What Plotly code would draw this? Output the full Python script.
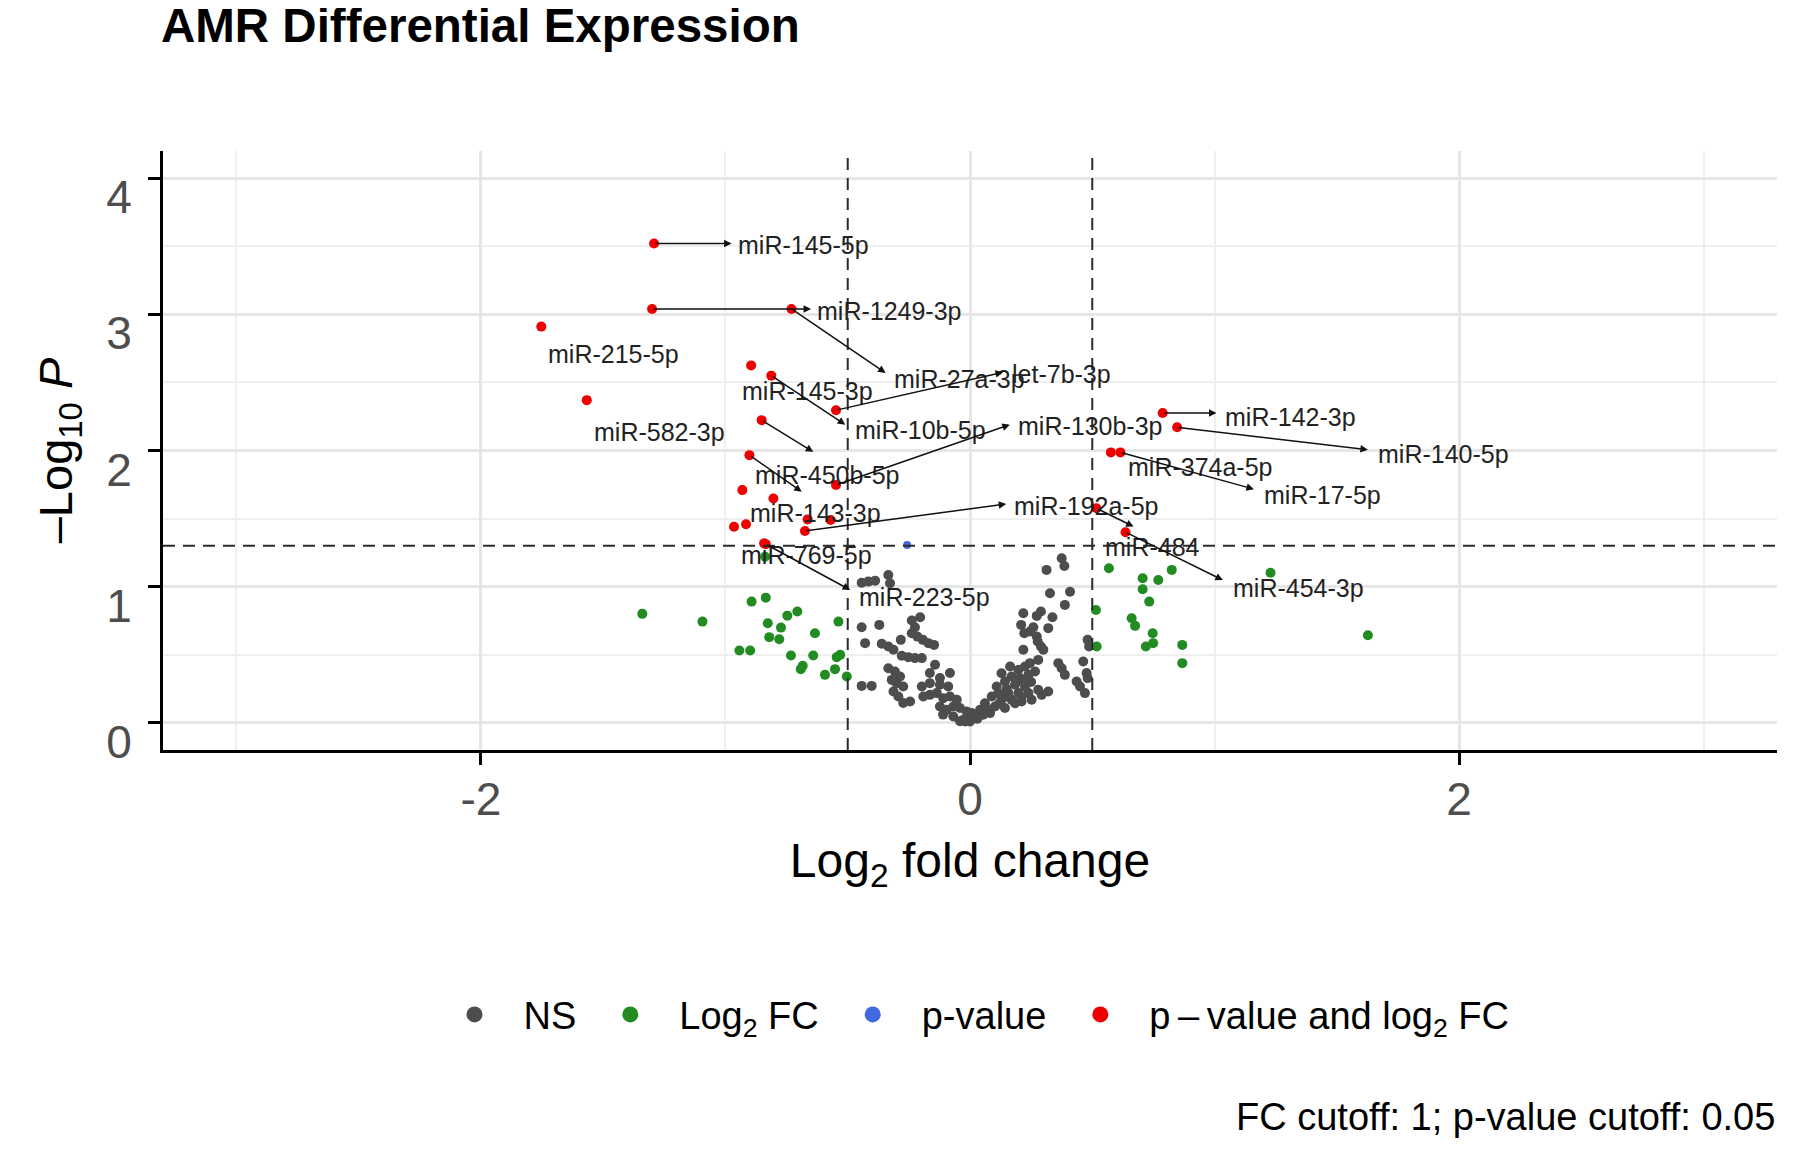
import math
import plotly.graph_objects as go

# ---------------- data (log2 fold change, -log10 p) ----------------
ns_x = [-0.443, -0.416, -0.388, -0.334, -0.327, -0.443, -0.371, -0.429,
        -0.238, -0.204, -0.225, -0.238, -0.215, -0.193, -0.170, -0.147,
        -0.361, -0.334, -0.313, -0.283, -0.279, -0.252, -0.225, -0.197,
        -0.143, -0.164, -0.334, -0.307, -0.286, -0.320, -0.300, -0.273,
        -0.313, -0.293, -0.273, -0.245, -0.443, -0.402, -0.197, -0.164,
        -0.123, -0.082, -0.123, -0.089, -0.136, -0.164, -0.191, -0.109,
        -0.082, -0.054, -0.123, -0.095, -0.068, -0.041, -0.014, -0.110,
        -0.068, -0.027, 0.000, -0.041, 0.000,
        0.375, 0.386, 0.313, 0.327, 0.409, 0.388, 0.218, 0.273, 0.290, 0.337,
        0.209, 0.259, 0.320, 0.222, 0.245, 0.273, 0.277, 0.290, 0.300, 0.218,
        0.481, 0.487, 0.279, 0.245, 0.225, 0.361, 0.375, 0.388, 0.463, 0.477,
        0.481, 0.436, 0.450, 0.470,
        0.164, 0.198, 0.129, 0.170, 0.204, 0.239, 0.266, 0.143, 0.184, 0.225,
        0.109, 0.116, 0.157, 0.198, 0.239, 0.279, 0.320, 0.089, 0.129, 0.170,
        0.211, 0.252, 0.293, 0.061, 0.102, 0.143, 0.184, 0.041, 0.082, 0.020,
        0.054, -0.007, 0.007, -0.020, 0.030, 0.070, 0.120, 0.150, 0.190, 0.220,
        0.250, 0.140, 0.210]
ns_y = [1.029, 1.037, 1.044, 1.086, 1.025, 0.702, 0.719, 0.585,
        0.751, 0.775, 0.702, 0.658, 0.633, 0.609, 0.585, 0.572,
        0.580, 0.560, 0.536, 0.609, 0.492, 0.482, 0.475, 0.475,
        0.426, 0.365, 0.401, 0.376, 0.340, 0.315, 0.291, 0.266,
        0.230, 0.193, 0.145, 0.156, 0.271, 0.271, 0.266, 0.291,
        0.328, 0.365, 0.279, 0.266, 0.218, 0.205, 0.193, 0.181,
        0.193, 0.169, 0.120, 0.095, 0.120, 0.108, 0.083, 0.060,
        0.046, 0.022, 0.022, 0.012, 0.010,
        1.208, 1.152, 1.123, 0.951, 0.963, 0.866, 0.805, 0.785, 0.817, 0.775,
        0.719, 0.702, 0.695, 0.658, 0.670, 0.633, 0.597, 0.560, 0.536, 0.536,
        0.609, 0.560, 0.462, 0.438, 0.413, 0.438, 0.401, 0.352, 0.450, 0.365,
        0.328, 0.303, 0.266, 0.218,
        0.413, 0.389, 0.364, 0.340, 0.328, 0.352, 0.377, 0.303, 0.279, 0.267,
        0.267, 0.218, 0.218, 0.218, 0.218, 0.242, 0.230, 0.193, 0.169, 0.169,
        0.156, 0.169, 0.205, 0.144, 0.120, 0.108, 0.144, 0.095, 0.071, 0.046,
        0.059, 0.022, 0.071, 0.010, 0.030, 0.100, 0.140, 0.250, 0.300, 0.310,
        0.300, 0.190, 0.190]

fc_x = [-1.340, -1.094, -0.893, -0.835, -0.747, -0.706, -0.827, -0.773, -0.634,
        -0.821, -0.780, -0.943, -0.899, -0.732, -0.641, -0.538, -0.545, -0.531,
        -0.684, -0.692, -0.593, -0.552, -0.504, -0.838,
        0.568, 0.825, 0.706, 0.770, 0.706, 0.733, 0.515, 0.661, 0.675, 0.747,
        0.719, 0.749, 0.868, 0.868, 0.518, 1.229, 1.627]
fc_y = [0.800, 0.743, 0.890, 0.919, 0.787, 0.817, 0.731, 0.699, 0.658,
        0.629, 0.614, 0.531, 0.531, 0.494, 0.494, 0.743, 0.482, 0.499,
        0.418, 0.394, 0.352, 0.394, 0.340, 1.220,
        1.135, 1.123, 1.061, 1.049, 0.981, 0.890, 0.829, 0.768, 0.712, 0.658,
        0.560, 0.585, 0.572, 0.438, 0.560, 1.102, 0.643]

p_x = [-0.257]
p_y = [1.306]

sig_names = ["miR-145-5p", "miR-1249-3p", "miR-27a-3p", "miR-215-5p", "miR-582-3p",
             "miR-145-3p", "miR-10b-5p", "let-7b-3p", "miR-450b-5p", "miR-143-3p",
             "miR-130b-3p", "", "", "", "", "", "", "miR-192a-5p", "miR-769-5p",
             "miR-223-5p", "miR-142-3p", "miR-140-5p", "miR-374a-5p", "miR-17-5p",
             "miR-484", "miR-454-3p"]
sig_x = [-1.292, -1.300, -0.730, -1.753, -1.567, -0.895, -0.8125, -0.548, -0.852,
         -0.902, -0.548, -0.931, -0.804, -0.965, -0.916, -0.664, -0.570, -0.675,
         -0.842, -0.835, 0.788, 0.847, 0.576, 0.615, 0.517, 0.636]
sig_y = [3.520, 3.040, 3.040, 2.910, 2.370, 2.625, 2.550, 2.296, 2.223,
         1.966, 1.746, 1.709, 1.648, 1.440, 1.458, 1.494, 1.489, 1.409,
         1.318, 1.312, 2.276, 2.171, 1.986, 1.986, 1.576, 1.400]

fc_cutoff_line = 0.5
p_cutoff = 0.05

# label placement (text left/middle anchor, arrow head) in data units
label_text_pos = {
    "miR-145-5p": (-0.955, 3.51), "miR-1249-3p": (-0.635, 3.025),
    "miR-27a-3p": (-0.32, 2.525), "let-7b-3p": (0.165, 2.56),
    "miR-215-5p": (-1.735, 2.71), "miR-582-3p": (-1.545, 2.135),
    "miR-145-3p": (-0.94, 2.44), "miR-10b-5p": (-0.48, 2.15),
    "miR-450b-5p": (-0.886, 1.82), "miR-130b-3p": (0.19, 2.18),
    "miR-143-3p": (-0.906, 1.54), "miR-192a-5p": (0.172, 1.59),
    "miR-769-5p": (-0.943, 1.233), "miR-223-5p": (-0.461, 0.925),
    "miR-142-3p": (1.034, 2.245), "miR-140-5p": (1.661, 1.975),
    "miR-374a-5p": (0.636, 1.88), "miR-17-5p": (1.195, 1.675),
    "miR-484": (0.542, 1.294), "miR-454-3p": (1.068, 0.99),
}
label_arrow_head = {
    "miR-145-5p": (-0.975, 3.52), "miR-1249-3p": (-0.65, 3.04),
    "miR-27a-3p": (-0.345, 2.57), "let-7b-3p": (0.135, 2.575),
    "miR-10b-5p": (-0.51, 2.19), "miR-450b-5p": (-0.641, 1.99),
    "miR-130b-3p": (0.163, 2.19), "miR-143-3p": (-0.688, 1.697),
    "miR-192a-5p": (0.148, 1.607), "miR-223-5p": (-0.49, 0.976),
    "miR-142-3p": (1.008, 2.276), "miR-140-5p": (1.627, 2.006),
    "miR-17-5p": (1.161, 1.716), "miR-484": (0.669, 1.441),
    "miR-454-3p": (1.034, 1.048),
}

# ---------------- figure ----------------
FONT = "Liberation Sans, Arial, sans-serif"
C_NS, C_FC, C_P, C_SIG = "#4d4d4d", "#228B22", "#4169E1", "#EE0000"

fig = go.Figure()
for xs, ys, col, sz in [(ns_x, ns_y, C_NS, 10), (fc_x, fc_y, C_FC, 10),
                        (p_x, p_y, C_P, 8), (sig_x, sig_y, C_SIG, 10)]:
    fig.add_trace(go.Scatter(x=xs, y=ys, mode="markers", showlegend=False,
                             marker=dict(color=col, size=sz, line=dict(width=0)),
                             hoverinfo="skip"))

# legend-only traces
for name, col in [("NS", C_NS), ("Log<sub>2</sub> FC", C_FC), ("p-value", C_P),
                  ("p\u2009\u2013\u2009value and log<sub>2</sub> FC", C_SIG)]:
    fig.add_trace(go.Scatter(x=[None], y=[None], mode="markers", name=name,
                             marker=dict(color=col, size=20)))

# threshold lines
DASH = "12px,8px"
for xv in (-fc_cutoff_line, fc_cutoff_line):
    fig.add_shape(type="line", xref="x", yref="paper", x0=xv, x1=xv, y0=0, y1=1,
                  line=dict(color="#2b2b2b", width=2, dash=DASH))
fig.add_shape(type="line", xref="paper", yref="y", x0=0, x1=1,
              y0=-math.log10(p_cutoff), y1=-math.log10(p_cutoff),
              line=dict(color="#2b2b2b", width=2, dash=DASH))

# labels + connectors
for i, nm in enumerate(sig_names):
    if not nm:
        continue
    tx, ty = label_text_pos[nm]
    fig.add_annotation(x=tx, y=ty, xref="x", yref="y", text=nm, showarrow=False,
                       xanchor="left", yanchor="middle",
                       font=dict(family=FONT, size=25, color="#222222"))
    if nm in label_arrow_head:
        hx, hy = label_arrow_head[nm]
        fig.add_annotation(x=hx, y=hy, ax=sig_x[i], ay=sig_y[i], xref="x", yref="y",
                           axref="x", ayref="y", text="", showarrow=True,
                           arrowhead=2, arrowsize=1, arrowwidth=1.5,
                           arrowcolor="#111111", standoff=0, startstandoff=0)

# caption
fig.add_annotation(xref="paper", yref="paper", x=1.0, y=-0.613, xanchor="right",
                   yanchor="middle", showarrow=False,
                   text="FC cutoff: 1; p-value cutoff: 0.05",
                   font=dict(family=FONT, size=38, color="black"))

axis_common = dict(showline=True, linecolor="black", linewidth=3, mirror=False,
                   ticks="outside", ticklen=12, tickwidth=3, tickcolor="black",
                   zeroline=False, showgrid=True, gridcolor="#e6e6e6", gridwidth=3,
                   tickfont=dict(family=FONT, size=46, color="#4d4d4d"))

W, H = 1792, 1133
fig.update_layout(
    width=W, height=H,
    margin=dict(l=155, r=23, t=143, b=391),
    paper_bgcolor="white", plot_bgcolor="white",
    font=dict(family=FONT, color="black"),
    title=dict(text="<b>AMR Differential Expression</b>", x=153 / W, xref="container",
               xanchor="left", y=1 - 17 / H, yref="container", yanchor="middle",
               font=dict(family=FONT, size=47.5, color="black")),
    xaxis=dict(range=[-3.3, 3.3], tickvals=[-2, 0, 2], ticktext=["-2", "0", "2"],
               minor=dict(tickvals=[-3, -1, 1, 3], showgrid=True, gridcolor="#efefef",
                          gridwidth=1.5, ticks=""),
               title=dict(text="Log<sub>2</sub> fold change", standoff=20,
                          font=dict(family=FONT, size=48, color="black")),
               ticklabelstandoff=-5,
               **axis_common),
    yaxis=dict(range=[-0.2, 4.2], tickvals=[0, 1, 2, 3, 4],
               minor=dict(tickvals=[0.5, 1.5, 2.5, 3.5], showgrid=True, gridcolor="#efefef",
                          gridwidth=1.5, ticks=""),
               title=dict(text="\u2013Log<sub>10</sub> <i>P</i>", standoff=19,
                          font=dict(family=FONT, size=47, color="black")),
               ticklabelstandoff=7, ticklabelshift=19,
               **axis_common),
    legend=dict(orientation="h", x=0.5, xanchor="center", y=-0.442, yanchor="middle",
                font=dict(family=FONT, size=38, color="black"),
                itemwidth=88, bgcolor="rgba(0,0,0,0)"),
)

fig.write_html("out.html")
